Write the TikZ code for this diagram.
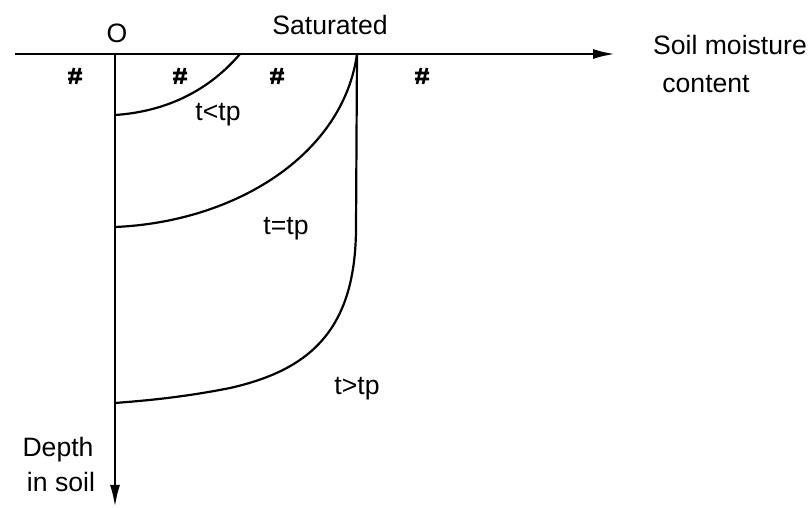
\documentclass[tikz,border=0pt]{standalone}
\usepackage{fontspec}
\setmainfont{Liberation Sans}
\usepackage{tikz}
\usetikzlibrary{arrows.meta}
\usetikzlibrary{positioning}

\tikzset{
  axis/.style={line width=1.2pt, -{Latex[length=11pt,width=5pt]}},
  curve/.style={line width=1.1pt},
  lbl/.style={anchor=base, inner sep=0pt, font=\fontsize{13.3}{16}\selectfont},
  soilmark/.pic={
    \draw[line width=1.3pt] (-7,-3) -- (7,-3) (-7,3) -- (7,3)
      (-5,8) -- (-1,-8) (1,8) -- (5,-8);
  }
}

\begin{document}
\begin{tikzpicture}[x=0.5pt,y=-0.5pt]
    \useasboundingbox (0,0) rectangle (811,508);

    % axes
    \coordinate (O) at (115,54);
    \coordinate (xstart) at (15,54);
    \coordinate (xend) at (615,54);
    \coordinate (yend) at (115,507);
    \draw[axis] (xstart) -- (xend);
    \draw[axis] (O) -- (yend);

    % wetting fronts
    \coordinate (sat) at (357,54);
    \coordinate (a1) at (240,54);
    \coordinate (b1) at (115,115);
    \coordinate (b2) at (115,227);
    \coordinate (b3) at (115,403);
    \draw[curve] (a1) .. controls (205,95) and (160,112) .. (b1);
    \draw[curve] (sat) .. controls (343,155) and (235,222) .. (b2);
    \draw[curve] (sat) -- (356,230) .. controls (355,330) and (310,370) ..
      (230,388) .. controls (180,398) and (140,401) .. (b3);

    \foreach \x in {75,180,277,422}{
      \pic at (\x,76) {soilmark};
    }

    \node[lbl] (lo) at (117,43) {O};
    \node[lbl] (lsat) at (330,35) {Saturated};
    \node[lbl] (l1) at (218,121) {t<tp};
    \node[lbl] (l2) at (286,235) {t=tp};
    \node[lbl] (l3) at (357,395) {t>tp};
    \node[lbl] (lx1) at (730,55) {Soil moisture};
    \node[lbl] (lx2) at (706,93) {content};
    \node[lbl] (ly1) at (58,457) {Depth};
    \node[lbl] (ly2) at (61,492) {in soil};

  \end{tikzpicture}
\end{document}
